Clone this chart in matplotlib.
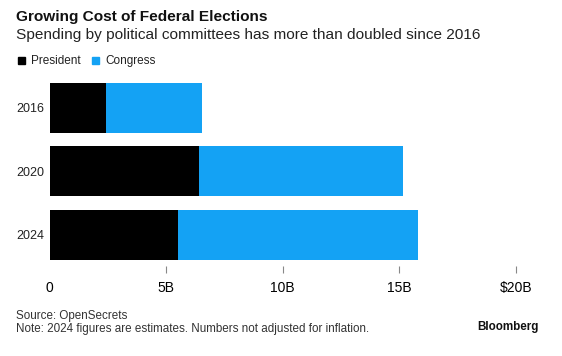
import matplotlib
matplotlib.use("Agg")
import matplotlib.pyplot as plt
from matplotlib.patches import Rectangle

plt.rcParams['font.family'] = ['Liberation Sans', 'DejaVu Sans']

years = ["2016", "2020", "2024"]
president = [2.41, 6.39, 5.53]
congress = [4.11, 8.75, 10.27]
xticks = [0, 5, 10, 15, 20]
xticklabels = ["0", "5B", "10B", "15B", "$20B"]

BLACK = "#000000"
BLUE = "#14a2f4"

W, H = 562, 356
fig = plt.figure(figsize=(W / 100, H / 100), dpi=100)

left, right = 49.5, 516
top, bottom = 82.7, 260
ax = fig.add_axes([left / W, 1 - bottom / H, (right - left) / W, (bottom - top) / H])

ypos = list(range(len(years)))
ax.barh(ypos, president, height=0.79, color=BLACK, label="President")
ax.barh(ypos, congress, left=president, height=0.79, color=BLUE, label="Congress")
ax.set_xlim(0, 20)
ax.set_ylim(2.395, -0.395)
ax.set_yticks(ypos)
ax.set_yticklabels(years, fontsize=9, color="#222222")
ax.tick_params(axis='y', length=0, pad=3.5)
ax.set_xticks(xticks)
ax.set_xticklabels(xticklabels, fontsize=8.5, color="#222222")
ax.tick_params(axis='x', length=4.8, width=0.8, color="#888888", pad=6, direction='out')
ax.spines['bottom'].set_position(('outward', 4.6))
for s in ax.spines.values():
    s.set_visible(False)
# hide the tick at 0
ax.xaxis.get_major_ticks()[0].tick1line.set_visible(False)

fig.text(16.5 / W, 1 - 17.3 / H, "Growing Cost of Federal Elections", fontsize=11.1,
         fontweight='bold', va='center', ha='left', color="#111111")
fig.text(16.5 / W, 1 - 34.5 / H, "Spending by political committees has more than doubled since 2016",
         fontsize=11.05, va='center', ha='left', color="#222222")

# legend
for xs, xt, lab, col in [(18.3, 31.5, "President", BLACK), (91.7, 105.5, "Congress", BLUE)]:
    fig.patches.append(Rectangle((xs / W, 1 - 64 / H), 7 / W, 7 / H, transform=fig.transFigure,
                                 color=col))
    fig.text(xt / W, 1 - 60.7 / H, lab, fontsize=8.5, va='center', ha='left', color="#222222")

fig.text(16.5 / W, 1 - 315.7 / H, "Source: OpenSecrets", fontsize=8.4, va='center', ha='left', color="#333333")
fig.text(16.5 / W, 1 - 329 / H, "Note: 2024 figures are estimates. Numbers not adjusted for inflation.",
         fontsize=8.4, va='center', ha='left', color="#333333")
fig.text(539 / W, 1 - 326.7 / H, "Bloomberg", fontsize=8.4, fontweight='bold', va='center', ha='right',
         color="#111111")

fig.savefig("out.png", dpi=100)
